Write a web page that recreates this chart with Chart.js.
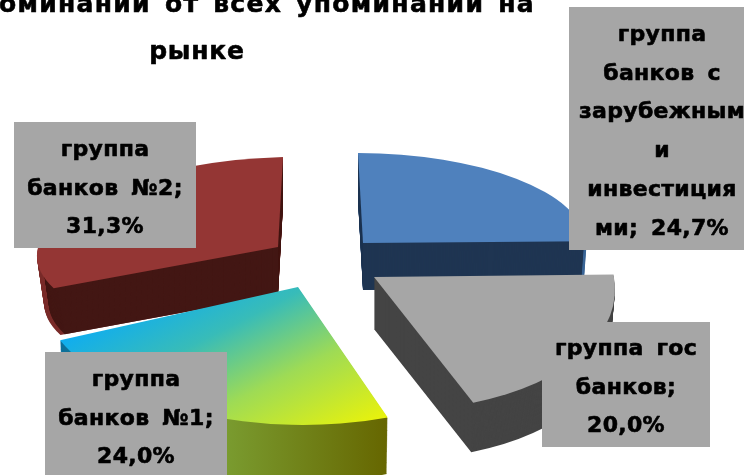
<!DOCTYPE html>
<html lang="ru">
<head>
<meta charset="utf-8">
<title>Доля упоминаний</title>
<script src="https://cdn.jsdelivr.net/npm/chart.js@4"></script>
<style>
html,body{margin:0;padding:0;background:#fff;overflow:hidden}
canvas{display:block}
</style>
</head>
<body>
<canvas id="chart" width="744" height="475"></canvas>
<script>
// === Data ===
const categories = ['группа банков с зарубежными инвестициями', 'группа гос банков', 'группа банков №1', 'группа банков №2'];
const shares = [24.7, 20.0, 24.0, 31.3];
const titleLines = ['Доля упоминаний от всех упоминаний на', 'рынке'];
// the label boxes break words the same way the original does, value goes on the last line
const labelLines = [
  ['группа', 'банков с', 'зарубежным', 'и', 'инвестиция', 'ми; '],
  ['группа гос', 'банков;', ''],
  ['группа', 'банков №1;', ''],
  ['группа', 'банков №2;', '']
];

// === Look of each slice ===
// 3D look: every slice gets its own flat projection (u, v axes), apex and wall depth.
// shrink pulls the bottom face in a little for perspective, rim is the lighter outer wall
const frames = [
  { apex: [363, 243], u: [224, 0], v: [5, 90], depth: 47, shrink: 0.015, rim: 0.012 },
  { apex: [374, 277], u: [240, 0], v: [22, 133], depth: 52, shrink: 0.02, rim: 0 },
  { apex: [298, 287], u: [260, 0], v: [5, 138], depth: 58, shrink: 0.01, rim: 0 },
  { apex: [278, 247], u: [241, -7], v: [-5, 90], depth: 48, shrink: 0.03, rim: 0.02 }
];
const drawOrder = [0, 3, 1, 2];
const boxes = [
  { x: 569, y: 7, w: 175, h: 243, cx: 662, firstLine: 35, step: 38.8 },
  { x: 542, y: 322, w: 168, h: 125, cx: 626, firstLine: 349, step: 38.8 },
  { x: 45, y: 352, w: 182, h: 123, cx: 136, firstLine: 380, step: 38.8 },
  { x: 14, y: 122, w: 182, h: 126, cx: 105, firstLine: 150, step: 38.8 }
];

function stops(grad, list) {
  list.forEach(s => grad.addColorStop(s[0], s[1]));
  return grad;
}

function topFill(ctx, i) {
  if (i === 0) return '#4f81bd';
  if (i === 1) return '#a6a6a6';
  if (i === 3) return '#943634';
  return stops(ctx.createLinearGradient(60, 340, 157, 532), [
    [0, '#0fadf0'], [0.3, '#38bcb8'], [0.62, '#9edb55'], [1, '#e8f20c']
  ]);
}

function wallFill(ctx, i) {
  if (i === 0) return '#1f3552';
  if (i === 1) return '#444444';
  if (i === 3) return '#431714';
  return stops(ctx.createLinearGradient(60, 0, 388, 0), [
    [0, '#0a6f9c'], [0.5, '#7a9c30'], [1, '#666600']
  ]);
}

function rimFill(ctx, i) {
  if (i === 0) return '#3a6596';
  if (i === 3) return '#7a2c2a';
  return wallFill(ctx, i);
}

function slicePath(ctx, arc, f, dy, k) {
  const p = arc.getProps(['startAngle', 'endAngle', 'outerRadius'], true);
  const R = p.outerRadius;
  ctx.save();
  ctx.translate(f.apex[0], f.apex[1] + dy);
  ctx.transform(k * f.u[0] / R, k * f.u[1] / R, k * f.v[0] / R, k * f.v[1] / R, 0, 0);
  ctx.beginPath();
  ctx.moveTo(0, 0);
  ctx.arc(0, 0, R, p.startAngle, p.endAngle);
  ctx.closePath();
  ctx.restore();
}

function sweep(ctx, arc, f, k) {
  for (let d = f.depth; d > 0; d--) {
    slicePath(ctx, arc, f, d, k * (1 - f.shrink * d / f.depth));
    ctx.fill();
  }
}

function heavyText(ctx, text, x, y) {
  ctx.fillText(text, x, y);
  ctx.strokeText(text, x, y);
}

const pie3d = {
  id: 'pie3d',
  beforeDatasetDraw(chart) {
    const ctx = chart.ctx;
    const arcs = chart.getDatasetMeta(0).data;
    drawOrder.forEach(i => {
      const f = frames[i];
      ctx.fillStyle = rimFill(ctx, i);
      sweep(ctx, arcs[i], f, 1);
      if (f.rim) {
        ctx.fillStyle = wallFill(ctx, i);
        sweep(ctx, arcs[i], f, 1 - f.rim);
      }
      slicePath(ctx, arcs[i], f, 0, 1);
      ctx.fillStyle = topFill(ctx, i);
      ctx.fill();
    });
    return false;
  },
  afterDraw(chart) {
    const ctx = chart.ctx;
    ctx.save();
    ctx.textBaseline = 'middle';
    ctx.fillStyle = '#000';
    ctx.strokeStyle = '#000';
    ctx.lineWidth = 0.6;
    ctx.lineJoin = 'round';
    // title sits partly outside the picture, same as the original
    ctx.font = 'bold 25px "DejaVu Sans"';
    ctx.letterSpacing = '1.3px';
    ctx.wordSpacing = '4px';
    ctx.textAlign = 'right';
    heavyText(ctx, titleLines[0], 535, 5);
    ctx.textAlign = 'center';
    ctx.letterSpacing = '0.8px';
    heavyText(ctx, titleLines[1], 197, 52);
    ctx.font = 'bold 22px "DejaVu Sans"';
    ctx.letterSpacing = '0.3px';
    ctx.wordSpacing = '5px';
    boxes.forEach((b, i) => {
      ctx.fillStyle = '#a6a6a6';
      ctx.fillRect(b.x, b.y, b.w, b.h);
      ctx.fillStyle = '#000';
      const value = shares[i].toFixed(1).replace('.', ',') + '%';
      const last = labelLines[i].length - 1;
      labelLines[i].forEach((line, n) => {
        heavyText(ctx, n === last ? line + value : line, b.cx, b.firstLine + n * b.step);
      });
    });
    ctx.restore();
  }
};

new Chart(document.getElementById('chart'), {
  type: 'pie',
  data: { labels: categories, datasets: [{ data: shares }] },
  options: {
    responsive: false,
    animation: false,
    plugins: { legend: { display: false }, title: { display: false }, tooltip: { enabled: false } }
  },
  plugins: [pie3d]
});
</script>
</body>
</html>
